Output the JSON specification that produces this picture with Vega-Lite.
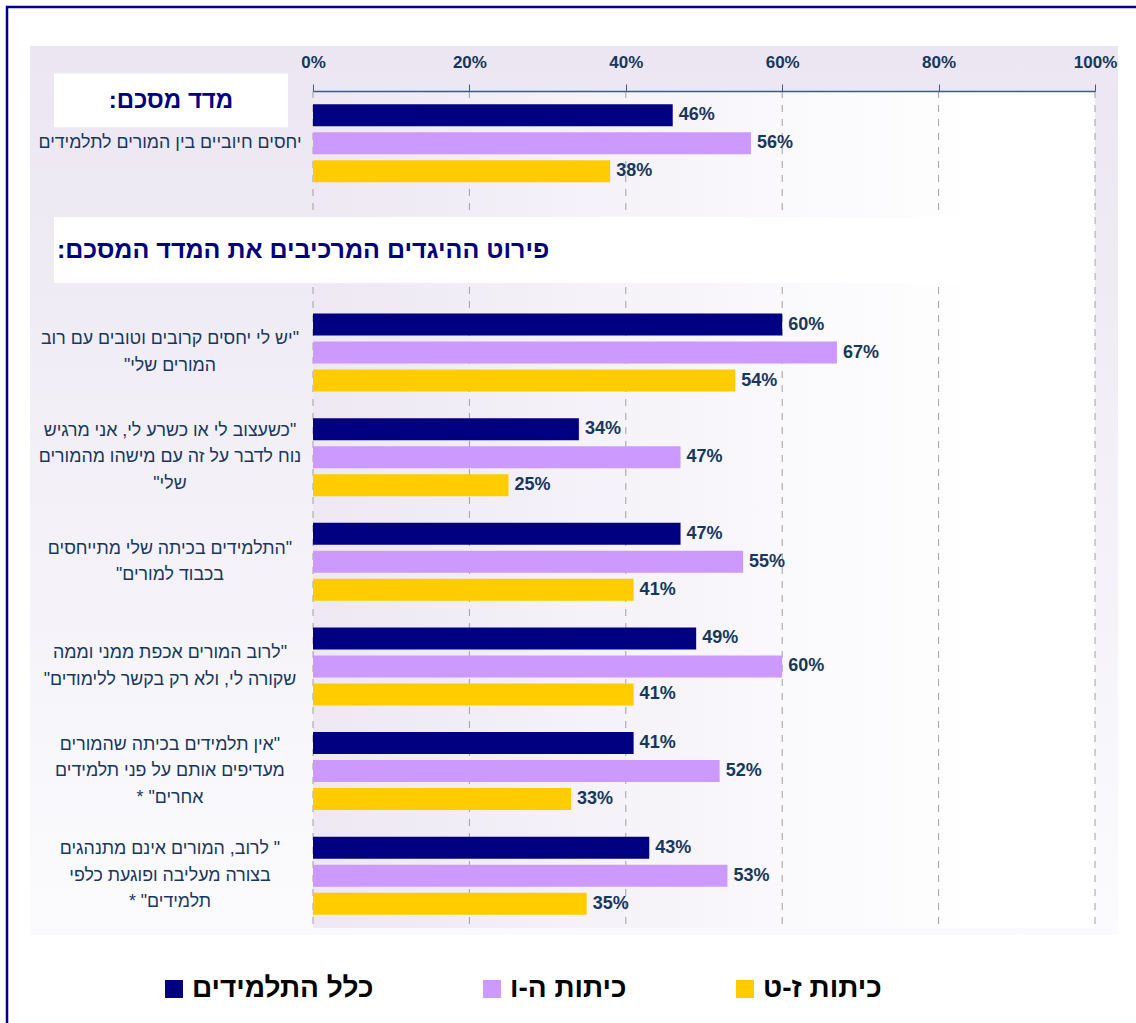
{
  "$schema": "https://vega.github.io/schema/vega-lite/v6.json",
  "width": 782,
  "height": 837,
  "autosize": {"type": "none"},
  "padding": {"left": 313, "top": 91, "right": 41, "bottom": 95},
  "background": "#ffffff",
  "config": {"view": {"stroke": null}, "font": "Liberation Sans, Arial, DejaVu Sans, sans-serif"},
  "datasets": {
    "bars": [
      {"statement": "יחסים חיוביים בין המורים לתלמידים", "group": "כלל התלמידים", "value": 0.46},
      {"statement": "יחסים חיוביים בין המורים לתלמידים", "group": "כיתות ה-ו", "value": 0.56},
      {"statement": "יחסים חיוביים בין המורים לתלמידים", "group": "כיתות ז-ט", "value": 0.38},
      {"statement": "יש לי יחסים קרובים וטובים עם רוב\"|\"המורים שלי", "group": "כלל התלמידים", "value": 0.60},
      {"statement": "יש לי יחסים קרובים וטובים עם רוב\"|\"המורים שלי", "group": "כיתות ה-ו", "value": 0.67},
      {"statement": "יש לי יחסים קרובים וטובים עם רוב\"|\"המורים שלי", "group": "כיתות ז-ט", "value": 0.54},
      {"statement": "כשעצוב לי או כשרע לי, אני מרגיש\"|נוח לדבר על זה עם מישהו מהמורים|\"שלי", "group": "כלל התלמידים", "value": 0.34},
      {"statement": "כשעצוב לי או כשרע לי, אני מרגיש\"|נוח לדבר על זה עם מישהו מהמורים|\"שלי", "group": "כיתות ה-ו", "value": 0.47},
      {"statement": "כשעצוב לי או כשרע לי, אני מרגיש\"|נוח לדבר על זה עם מישהו מהמורים|\"שלי", "group": "כיתות ז-ט", "value": 0.25},
      {"statement": "התלמידים בכיתה שלי מתייחסים\"|\"בכבוד למורים", "group": "כלל התלמידים", "value": 0.47},
      {"statement": "התלמידים בכיתה שלי מתייחסים\"|\"בכבוד למורים", "group": "כיתות ה-ו", "value": 0.55},
      {"statement": "התלמידים בכיתה שלי מתייחסים\"|\"בכבוד למורים", "group": "כיתות ז-ט", "value": 0.41},
      {"statement": "לרוב המורים אכפת ממני וממה\"|\"שקורה לי, ולא רק בקשר ללימודים", "group": "כלל התלמידים", "value": 0.49},
      {"statement": "לרוב המורים אכפת ממני וממה\"|\"שקורה לי, ולא רק בקשר ללימודים", "group": "כיתות ה-ו", "value": 0.60},
      {"statement": "לרוב המורים אכפת ממני וממה\"|\"שקורה לי, ולא רק בקשר ללימודים", "group": "כיתות ז-ט", "value": 0.41},
      {"statement": "אין תלמידים בכיתה שהמורים\"|מעדיפים אותם על פני תלמידים|* \"אחרים", "group": "כלל התלמידים", "value": 0.41},
      {"statement": "אין תלמידים בכיתה שהמורים\"|מעדיפים אותם על פני תלמידים|* \"אחרים", "group": "כיתות ה-ו", "value": 0.52},
      {"statement": "אין תלמידים בכיתה שהמורים\"|מעדיפים אותם על פני תלמידים|* \"אחרים", "group": "כיתות ז-ט", "value": 0.33},
      {"statement": "לרוב, המורים אינם מתנהגים \"|בצורה מעליבה ופוגעת כלפי|* \"תלמידים", "group": "כלל התלמידים", "value": 0.43},
      {"statement": "לרוב, המורים אינם מתנהגים \"|בצורה מעליבה ופוגעת כלפי|* \"תלמידים", "group": "כיתות ה-ו", "value": 0.53},
      {"statement": "לרוב, המורים אינם מתנהגים \"|בצורה מעליבה ופוגעת כלפי|* \"תלמידים", "group": "כיתות ז-ט", "value": 0.35}
    ]
  },
  "layer": [
    {
      "layer": [
        {
          "data": {"values": [{"part": "panel"}]},
          "mark": {"type": "rect", "strokeWidth": 0, "color": {"gradient": "linear", "x1": 0, "y1": 0, "x2": 0, "y2": 1, "stops": [{"offset": 0, "color": "#EBE6F2"}, {"offset": 1, "color": "#FBFBFD"}]}},
          "encoding": {
            "x": {"datum": -0.3619, "type": "quantitative", "scale": {"domain": [0, 1], "nice": false, "zero": false}},
            "x2": {"datum": 1.0294},
            "y": {"datum": 1.0538, "type": "quantitative", "scale": {"domain": [0, 1], "nice": false, "zero": false}, "axis": null},
            "y2": {"datum": -0.0084}
          }
        },
        {
          "data": {"values": [{"part": "plot"}]},
          "mark": {"type": "rect", "strokeWidth": 0, "color": {"gradient": "linear", "x1": 0, "y1": 0, "x2": 1, "y2": 0, "stops": [{"offset": 0, "color": "#EDE8F3"}, {"offset": 0.85, "color": "#FFFFFF"}, {"offset": 1, "color": "#FFFFFF"}]}},
          "encoding": {
            "x": {"datum": 0, "type": "quantitative", "scale": {"domain": [0, 1], "nice": false, "zero": false}},
            "x2": {"datum": 1},
            "y": {"datum": 1, "type": "quantitative", "scale": {"domain": [0, 1], "nice": false, "zero": false}, "axis": null},
            "y2": {"datum": 0}
          }
        },
        {
          "data": {"values": [{"tick": 0}, {"tick": 0.2}, {"tick": 0.4}, {"tick": 0.6}, {"tick": 0.8}, {"tick": 1}]},
          "mark": {"type": "rule", "color": "#A0A0A0", "strokeWidth": 1, "strokeDash": [7, 7]},
          "encoding": {
            "x": {"field": "tick", "type": "quantitative", "scale": {"domain": [0, 1], "nice": false, "zero": false}}
          }
        },
        {
          "data": {"values": [{"part": "titlebox"}]},
          "mark": {"type": "rect", "color": "#FFFFFF", "strokeWidth": 0},
          "encoding": {
            "x": {"datum": -0.3312, "type": "quantitative", "scale": {"domain": [0, 1], "nice": false, "zero": false}},
            "x2": {"datum": -0.032},
            "y": {"datum": 1.0209, "type": "quantitative", "scale": {"domain": [0, 1], "nice": false, "zero": false}, "axis": null},
            "y2": {"datum": 0.9566}
          }
        },
        {
          "data": {"values": [{"label": ":מדד מסכם"}]},
          "mark": {"type": "text", "align": "center", "baseline": "middle", "fontSize": 24, "fontWeight": "bold", "color": "#000080"},
          "encoding": {
            "x": {"datum": -0.1816, "type": "quantitative", "scale": {"domain": [0, 1], "nice": false, "zero": false}},
            "y": {"datum": 0.988, "type": "quantitative", "scale": {"domain": [0, 1], "nice": false, "zero": false}, "axis": null},
            "text": {"field": "label"}
          }
        },
        {
          "data": {"values": [{"part": "headerbox"}]},
          "mark": {"type": "rect", "color": "#FFFFFF", "strokeWidth": 0},
          "encoding": {
            "x": {"datum": -0.3312, "type": "quantitative", "scale": {"domain": [0, 1], "nice": false, "zero": false}},
            "x2": {"datum": 0.999},
            "y": {"datum": 0.8495, "type": "quantitative", "scale": {"domain": [0, 1], "nice": false, "zero": false}, "axis": null},
            "y2": {"datum": 0.7706}
          }
        },
        {
          "data": {"values": [{"label": ":פירוט ההיגדים המרכיבים את המדד המסכם"}]},
          "mark": {"type": "text", "align": "left", "baseline": "middle", "fontSize": 25, "fontWeight": "bold", "color": "#000080"},
          "encoding": {
            "x": {"datum": -0.3274, "type": "quantitative", "scale": {"domain": [0, 1], "nice": false, "zero": false}},
            "y": {"datum": 0.81, "type": "quantitative", "scale": {"domain": [0, 1], "nice": false, "zero": false}, "axis": null},
            "text": {"field": "label"}
          }
        },
        {
          "data": {"values": [{"part": "border"}]},
          "mark": {"type": "rect", "filled": false, "stroke": "#000090", "strokeWidth": 2.5},
          "encoding": {
            "x": {"datum": -0.3913, "type": "quantitative", "scale": {"domain": [0, 1], "nice": false, "zero": false}},
            "x2": {"datum": 1.0575},
            "y": {"datum": 1.1004, "type": "quantitative", "scale": {"domain": [0, 1], "nice": false, "zero": false}, "axis": null},
            "y2": {"datum": -0.1219}
          }
        }
      ]
    },
    {
      "data": {"name": "bars"},
      "layer": [
        {
          "mark": {"type": "bar"},
          "encoding": {
            "y": {
              "field": "statement",
              "type": "nominal",
              "scale": {
                "domain": [
                  "יחסים חיוביים בין המורים לתלמידים",
                  "header",
                  "יש לי יחסים קרובים וטובים עם רוב\"|\"המורים שלי",
                  "כשעצוב לי או כשרע לי, אני מרגיש\"|נוח לדבר על זה עם מישהו מהמורים|\"שלי",
                  "התלמידים בכיתה שלי מתייחסים\"|\"בכבוד למורים",
                  "לרוב המורים אכפת ממני וממה\"|\"שקורה לי, ולא רק בקשר ללימודים",
                  "אין תלמידים בכיתה שהמורים\"|מעדיפים אותם על פני תלמידים|* \"אחרים",
                  "לרוב, המורים אינם מתנהגים \"|בצורה מעליבה ופוגעת כלפי|* \"תלמידים"
                ],
                "paddingInner": 0,
                "paddingOuter": 0
              },
              "axis": null
            },
            "yOffset": {
              "field": "group",
              "type": "nominal",
              "scale": {"domain": ["כלל התלמידים", "כיתות ה-ו", "כיתות ז-ט"], "paddingInner": 0.214, "paddingOuter": 0.475}
            },
            "x": {
              "field": "value",
              "type": "quantitative",
              "scale": {"domain": [0, 1], "nice": false, "zero": false},
              "axis": {
                "orient": "top",
                "values": [0, 0.2, 0.4, 0.6, 0.8, 1],
                "format": ".0%",
                "grid": false,
                "title": null,
                "domainColor": "#385D8A",
                "domainWidth": 1.5,
                "tickColor": "#385D8A",
                "tickSize": 7,
                "labelFontSize": 17,
                "labelFontWeight": "bold",
                "labelColor": "#17375E",
                "labelPadding": 13,
                "labelFlush": false,
                "zindex": 1
              }
            },
            "color": {
              "field": "group",
              "type": "nominal",
              "scale": {"domain": ["כלל התלמידים", "כיתות ה-ו", "כיתות ז-ט"], "range": ["#000080", "#CC99FF", "#FFCC00"]},
              "legend": {
                "orient": "none",
                "direction": "horizontal",
                "legendX": -153,
                "legendY": 884,
                "padding": 0,
                "title": null,
                "symbolType": "square",
                "symbolSize": 324,
                "symbolStrokeWidth": 0,
                "symbolOpacity": 1,
                "labelFontSize": 28,
                "labelFontWeight": "bold",
                "labelColor": "#000000",
                "labelOffset": 4,
                "labelLimit": 400,
                "columnPadding": 104,
                "zindex": 1
              }
            }
          }
        },
        {
          "mark": {"type": "text", "align": "left", "baseline": "middle", "dx": 6, "fontSize": 18, "fontWeight": "bold", "color": "#17375E"},
          "encoding": {
            "y": {"field": "statement", "type": "nominal", "axis": null},
            "yOffset": {"field": "group", "type": "nominal"},
            "x": {"field": "value", "type": "quantitative", "scale": {"domain": [0, 1], "nice": false, "zero": false}},
            "text": {"field": "value", "type": "quantitative", "format": ".0%"}
          }
        },
        {
          "transform": [{"filter": "datum.group == 'כלל התלמידים'"}],
          "mark": {
            "type": "text",
            "align": "center",
            "baseline": "middle",
            "lineBreak": "|",
            "lineHeight": 26.5,
            "fontSize": 17.8,
            "color": "#17375E",
            "dy": {"expr": "-(length(split(datum.statement, '|')) - 1) * 13.25"}
          },
          "encoding": {
            "y": {"field": "statement", "type": "nominal", "axis": null},
            "x": {"datum": -0.1829, "type": "quantitative", "scale": {"domain": [0, 1], "nice": false, "zero": false}},
            "text": {"field": "statement"}
          }
        }
      ]
    }
  ],
  "resolve": {"scale": {"y": "independent"}, "axis": {"y": "independent"}}
}
